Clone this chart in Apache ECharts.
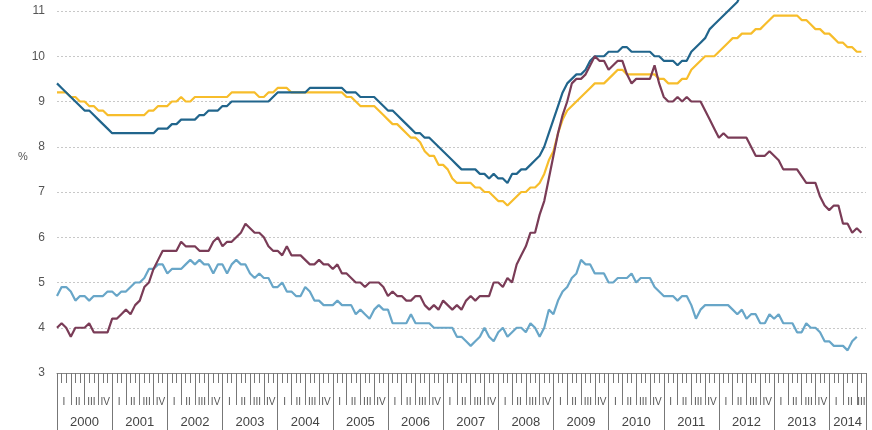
<!DOCTYPE html>
<html>
<head>
<meta charset="utf-8">
<script src="https://cdn.jsdelivr.net/npm/echarts@6/dist/echarts.min.js"></script>
<style>
  html, body { margin: 0; padding: 0; background: #fff; }
  #chart { width: 872px; height: 430px; }
</style>
</head>
<body>
<div id="chart"></div>
<script>
// monthly unemployment rates, Jan 2000 - Aug 2014 (%)
const years = [2000, 2001, 2002, 2003, 2004, 2005, 2006, 2007, 2008, 2009, 2010, 2011, 2012, 2013, 2014]
const quarterNames = ['I', 'II', 'III', 'IV']
const lastSlot = 176 // axis runs to Sep 2014

const months = []
years.forEach(y => { for (let m = 1; m <= 12; m++) months.push(y + '-' + String(m).padStart(2, '0')) })
months.length = lastSlot + 1

const euroArea = [
  9.4, 9.3, 9.2, 9.1, 9.0, 8.9, 8.8, 8.8, 8.7, 8.6, 8.5, 8.4,
  8.3, 8.3, 8.3, 8.3, 8.3, 8.3, 8.3, 8.3, 8.3, 8.3, 8.4, 8.4,
  8.4, 8.5, 8.5, 8.6, 8.6, 8.6, 8.6, 8.7, 8.7, 8.8, 8.8, 8.8,
  8.9, 8.9, 9.0, 9.0, 9.0, 9.0, 9.0, 9.0, 9.0, 9.0, 9.0, 9.1,
  9.2, 9.2, 9.2, 9.2, 9.2, 9.2, 9.2, 9.3, 9.3, 9.3, 9.3, 9.3,
  9.3, 9.3, 9.3, 9.2, 9.2, 9.2, 9.1, 9.1, 9.1, 9.1, 9.0, 8.9,
  8.8, 8.8, 8.7, 8.6, 8.5, 8.4, 8.3, 8.3, 8.2, 8.2, 8.1, 8.0,
  7.9, 7.8, 7.7, 7.6, 7.5, 7.5, 7.5, 7.5, 7.4, 7.4, 7.3, 7.4,
  7.3, 7.3, 7.2, 7.4, 7.4, 7.5, 7.5, 7.6, 7.7, 7.8, 8.0, 8.3,
  8.6, 8.9, 9.2, 9.4, 9.5, 9.6, 9.6, 9.7, 9.9, 10.0, 10.0, 10.0,
  10.1, 10.1, 10.1, 10.2, 10.2, 10.1, 10.1, 10.1, 10.1, 10.1, 10.0, 10.0,
  9.9, 9.9, 9.9, 9.8, 9.9, 9.9, 10.1, 10.2, 10.3, 10.4, 10.6, 10.7,
  10.8, 10.9, 11.0, 11.1, 11.2, 11.4, 11.4, 11.5, 11.5, 11.6, 11.7, 11.8,
  11.9, 11.9, 12.0, 12.0, 12.0, 12.0, 12.0, 12.0, 12.0, 11.9, 11.9, 11.8,
  11.8, 11.7, 11.7, 11.6, 11.6, 11.5, 11.5, 11.5
]

const eu = [
  9.2, 9.2, 9.2, 9.1, 9.1, 9.0, 9.0, 8.9, 8.9, 8.8, 8.8, 8.7,
  8.7, 8.7, 8.7, 8.7, 8.7, 8.7, 8.7, 8.7, 8.8, 8.8, 8.9, 8.9,
  8.9, 9.0, 9.0, 9.1, 9.0, 9.0, 9.1, 9.1, 9.1, 9.1, 9.1, 9.1,
  9.1, 9.1, 9.2, 9.2, 9.2, 9.2, 9.2, 9.2, 9.1, 9.1, 9.2, 9.2,
  9.3, 9.3, 9.3, 9.2, 9.2, 9.2, 9.2, 9.2, 9.2, 9.2, 9.2, 9.2,
  9.2, 9.2, 9.2, 9.1, 9.1, 9.0, 8.9, 8.9, 8.9, 8.9, 8.8, 8.7,
  8.6, 8.5, 8.5, 8.4, 8.3, 8.2, 8.2, 8.1, 7.9, 7.8, 7.8, 7.6,
  7.6, 7.5, 7.3, 7.2, 7.2, 7.2, 7.2, 7.1, 7.1, 7.0, 7.0, 6.9,
  6.8, 6.8, 6.7, 6.8, 6.9, 7.0, 7.0, 7.1, 7.1, 7.2, 7.4, 7.7,
  7.9, 8.3, 8.6, 8.8, 8.9, 9.0, 9.1, 9.2, 9.3, 9.4, 9.4, 9.4,
  9.5, 9.6, 9.7, 9.7, 9.6, 9.6, 9.6, 9.6, 9.6, 9.6, 9.6, 9.5,
  9.5, 9.4, 9.4, 9.4, 9.5, 9.5, 9.7, 9.8, 9.9, 10.0, 10.0, 10.0,
  10.1, 10.2, 10.3, 10.4, 10.4, 10.5, 10.5, 10.5, 10.6, 10.6, 10.7, 10.8,
  10.9, 10.9, 10.9, 10.9, 10.9, 10.9, 10.8, 10.8, 10.7, 10.6, 10.6, 10.5,
  10.5, 10.4, 10.3, 10.3, 10.2, 10.2, 10.1, 10.1
]

const usa = [
  4.0, 4.1, 4.0, 3.8, 4.0, 4.0, 4.0, 4.1, 3.9, 3.9, 3.9, 3.9,
  4.2, 4.2, 4.3, 4.4, 4.3, 4.5, 4.6, 4.9, 5.0, 5.3, 5.5, 5.7,
  5.7, 5.7, 5.7, 5.9, 5.8, 5.8, 5.8, 5.7, 5.7, 5.7, 5.9, 6.0,
  5.8, 5.9, 5.9, 6.0, 6.1, 6.3, 6.2, 6.1, 6.1, 6.0, 5.8, 5.7,
  5.7, 5.6, 5.8, 5.6, 5.6, 5.6, 5.5, 5.4, 5.4, 5.5, 5.4, 5.4,
  5.3, 5.4, 5.2, 5.2, 5.1, 5.0, 5.0, 4.9, 5.0, 5.0, 5.0, 4.9,
  4.7, 4.8, 4.7, 4.7, 4.6, 4.6, 4.7, 4.7, 4.5, 4.4, 4.5, 4.4,
  4.6, 4.5, 4.4, 4.5, 4.4, 4.6, 4.7, 4.6, 4.7, 4.7, 4.7, 5.0,
  5.0, 4.9, 5.1, 5.0, 5.4, 5.6, 5.8, 6.1, 6.1, 6.5, 6.8, 7.3,
  7.8, 8.3, 8.7, 9.0, 9.4, 9.5, 9.5, 9.6, 9.8, 10.0, 9.9, 9.9,
  9.7, 9.8, 9.9, 9.9, 9.6, 9.4, 9.5, 9.5, 9.5, 9.5, 9.8, 9.4,
  9.1, 9.0, 9.0, 9.1, 9.0, 9.1, 9.0, 9.0, 9.0, 8.8, 8.6, 8.4,
  8.2, 8.3, 8.2, 8.2, 8.2, 8.2, 8.2, 8.0, 7.8, 7.8, 7.8, 7.9,
  7.8, 7.7, 7.5, 7.5, 7.5, 7.5, 7.35, 7.2, 7.2, 7.2, 6.9, 6.7,
  6.6, 6.7, 6.7, 6.3, 6.3, 6.1, 6.2, 6.1
]

const japan = [
  4.7, 4.9, 4.9, 4.8, 4.6, 4.7, 4.7, 4.6, 4.7, 4.7, 4.7, 4.8,
  4.8, 4.7, 4.8, 4.8, 4.9, 5.0, 5.0, 5.1, 5.3, 5.3, 5.4, 5.4,
  5.2, 5.3, 5.3, 5.3, 5.4, 5.5, 5.4, 5.5, 5.4, 5.4, 5.2, 5.4,
  5.4, 5.2, 5.4, 5.5, 5.4, 5.4, 5.2, 5.1, 5.2, 5.1, 5.1, 4.9,
  4.9, 5.0, 4.8, 4.8, 4.7, 4.7, 4.9, 4.8, 4.6, 4.6, 4.5, 4.5,
  4.5, 4.6, 4.5, 4.5, 4.5, 4.3, 4.4, 4.3, 4.2, 4.4, 4.5, 4.4,
  4.4, 4.1, 4.1, 4.1, 4.1, 4.3, 4.1, 4.1, 4.1, 4.1, 4.0, 4.0,
  4.0, 4.0, 4.0, 3.8, 3.8, 3.7, 3.6, 3.7, 3.8, 4.0, 3.8, 3.7,
  3.9, 4.0, 3.8, 3.9, 4.0, 4.0, 3.9, 4.1, 4.0, 3.8, 4.0, 4.4,
  4.3, 4.6, 4.8, 4.9, 5.1, 5.2, 5.5, 5.4, 5.4, 5.2, 5.2, 5.2,
  5.0, 5.0, 5.1, 5.1, 5.1, 5.2, 5.0, 5.1, 5.1, 5.1, 4.9, 4.8,
  4.7, 4.7, 4.7, 4.6, 4.7, 4.7, 4.5, 4.2, 4.4, 4.5, 4.5, 4.5,
  4.5, 4.5, 4.5, 4.4, 4.3, 4.4, 4.2, 4.3, 4.3, 4.1, 4.1, 4.3,
  4.2, 4.3, 4.1, 4.1, 4.1, 3.9, 3.9, 4.1, 4.0, 4.0, 3.9, 3.7,
  3.7, 3.6, 3.6, 3.6, 3.5, 3.7, 3.8
]

// tick/label positions on the month scale (0 = Jan 2000)
const yearTicks = years.map((y, i) => i * 12).concat([lastSlot])
const yearLabelPos = years.map((y, i) => (i * 12 + Math.min(i * 12 + 12, lastSlot)) / 2)
const quarterTicks = []
const quarterLabelPos = []
for (let q = 0; q * 3 < lastSlot; q++) {
  quarterTicks.push(q * 3)
  quarterLabelPos.push((q * 3 + Math.min(q * 3 + 3, lastSlot)) / 2)
}

const chart = echarts.init(document.getElementById('chart'))
const font = 'Liberation Sans, Arial, sans-serif'
const tickColor = '#777'

function line(name, data, color) {
  return {
    name, type: 'line', data, color,
    showSymbol: false, clip: false,
    lineStyle: { width: 2.2, color },
    z: 3,
  }
}

chart.setOption({
  animation: false,
  grid: { left: 57, right: 6, top: 11, bottom: 57 },
  graphic: [{
    type: 'text', left: 18, top: 151,
    style: { text: '%', fontSize: 11, fill: '#555', fontFamily: font },
  }],
  xAxis: [
    {
      type: 'category', data: months, boundaryGap: false, position: 'bottom',
      axisLine: { lineStyle: { color: '#888' } },
      axisTick: { interval: 0, length: 10, lineStyle: { color: tickColor } },
      axisLabel: { show: false },
      splitLine: { show: false },
    },
    {
      type: 'value', min: 0, max: lastSlot, position: 'bottom',
      axisLine: { show: false },
      axisTick: { customValues: quarterTicks, length: 32, lineStyle: { color: tickColor } },
      axisLabel: {
        customValues: quarterLabelPos, margin: 24, fontSize: 10, color: '#555', fontFamily: font,
        formatter: v => quarterNames[Math.floor(v / 3) % 4],
      },
      splitLine: { show: false },
    },
    {
      type: 'value', min: 0, max: lastSlot, position: 'bottom',
      axisLine: { show: false },
      axisTick: { customValues: yearTicks, length: 60, lineStyle: { color: tickColor } },
      axisLabel: {
        customValues: yearLabelPos, margin: 43, fontSize: 13, color: '#444', fontFamily: font,
        formatter: v => String(years[Math.floor(v / 12)]),
      },
      splitLine: { show: false },
    },
  ],
  yAxis: {
    type: 'value', min: 3, max: 11, interval: 1,
    axisLine: { show: false },
    axisTick: { show: false },
    axisLabel: { margin: 12, fontSize: 12, color: '#555', fontFamily: font },
    splitLine: { lineStyle: { color: '#c8c8c8', type: [2, 2] } },
  },
  series: [
    line('Japan', japan, '#68a6c8'),
    line('EU28', eu, '#f7bd2b'),
    line('Euro area', euroArea, '#21658c'),
    line('USA', usa, '#7a3c57'),
  ],
})
</script>
</body>
</html>
